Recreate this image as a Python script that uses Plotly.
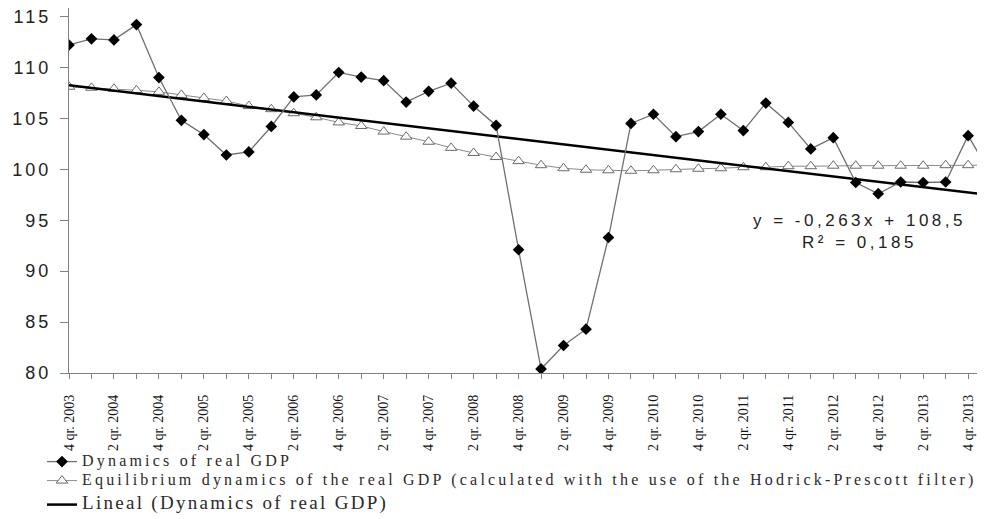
import plotly.graph_objects as go

# ---- data ----
quarters = [
    "4 qr. 2003", "1 qr. 2004", "2 qr. 2004", "3 qr. 2004", "4 qr. 2004",
    "1 qr. 2005", "2 qr. 2005", "3 qr. 2005", "4 qr. 2005",
    "1 qr. 2006", "2 qr. 2006", "3 qr. 2006", "4 qr. 2006",
    "1 qr. 2007", "2 qr. 2007", "3 qr. 2007", "4 qr. 2007",
    "1 qr. 2008", "2 qr. 2008", "3 qr. 2008", "4 qr. 2008",
    "1 qr. 2009", "2 qr. 2009", "3 qr. 2009", "4 qr. 2009",
    "1 qr. 2010", "2 qr. 2010", "3 qr. 2010", "4 qr. 2010",
    "1 qr. 2011", "2 qr. 2011", "3 qr. 2011", "4 qr. 2011",
    "1 qr. 2012", "2 qr. 2012", "3 qr. 2012", "4 qr. 2012",
    "1 qr. 2013", "2 qr. 2013", "3 qr. 2013", "4 qr. 2013",
    "1 qr. 2014",
]
real_gdp = [
    112.2, 112.8, 112.7, 114.2, 109.0,
    104.8, 103.4, 101.4, 101.7,
    104.2, 107.1, 107.3, 109.5,
    109.05, 108.7, 106.6, 107.65,
    108.45, 106.2, 104.3, 92.1,
    80.4, 82.7, 84.3, 93.3,
    104.5, 105.4, 103.2, 103.7,
    105.4, 103.8, 106.5, 104.6,
    102.0, 103.1, 98.7, 97.6,
    98.75, 98.7, 98.75, 103.3,
    99.5,
]
hp_gdp = [
    108.1, 108.0, 107.9, 107.75, 107.6,
    107.3, 107.0, 106.7, 106.2,
    105.9, 105.5, 105.1, 104.6,
    104.25, 103.7, 103.2, 102.7,
    102.1, 101.6, 101.2, 100.8,
    100.4, 100.1, 99.95, 99.9,
    99.85, 99.9, 100.0, 100.05,
    100.1, 100.2, 100.2, 100.3,
    100.3, 100.35, 100.35, 100.35,
    100.35, 100.35, 100.4, 100.4,
    100.4,
]
trend_slope = -0.263
trend_intercept = 108.5
trend_r2 = 0.185

y_ticks = [80, 85, 90, 95, 100, 105, 110, 115]

# ---- derived ----
x_idx = list(range(len(quarters)))
trend = [trend_intercept + trend_slope * (i + 1) for i in x_idx]
shown_idx = x_idx[0:41:2]
shown_text = [quarters[i] for i in shown_idx]

GREY = "#808080"
SERIF = "Liberation Serif, Times New Roman, serif"
SANS = "Liberation Sans, Arial, sans-serif"


def spaced(txt, ls, size=None):
    st = f"letter-spacing:{ls}px"
    if size:
        st += f";font-size:{size}px"
    return f"<span style='{st}'>{txt}</span>"


fig = go.Figure()

fig.add_trace(go.Scatter(
    x=x_idx, y=hp_gdp, mode="lines+markers",
    name=spaced("Equilibrium dynamics of the real GDP (calculated with the use of the Hodrick-Prescott filter)", 3.2, 16),
    line=dict(color="#8a8a8a", width=1),
    marker=dict(symbol="triangle-up", size=10, color="white",
                line=dict(color="#6a6a6a", width=1)),
    legendrank=2, legendgroup="a",
))
fig.add_trace(go.Scatter(
    x=x_idx, y=trend, mode="lines",
    name=spaced("Lineal (Dynamics of real GDP)", 2.3, 19),
    line=dict(color="black", width=2.5),
    legendrank=3, legendgroup="b",
))
fig.add_trace(go.Scatter(
    x=x_idx, y=real_gdp, mode="lines+markers",
    name=spaced("Dynamics of real GDP", 3.2, 16),
    line=dict(color="#707070", width=1.3),
    marker=dict(symbol="diamond", size=9, color="black"),
    legendrank=1, legendgroup="a",
))

eq_text = f"y = {trend_slope}x + {trend_intercept}".replace(".", ",")
r2_text = f"R² = {trend_r2}".replace(".", ",")
fig.add_annotation(
    x=35.15, y=93.9, xref="x", yref="y",
    text=spaced(eq_text, 3.5) + "<br>" + spaced(r2_text, 3.5),
    showarrow=False, align="center",
    font=dict(family=SANS, size=17, color="#222222"),
)

# page body has an 8px margin, so the figure is sized to fit the window from (8, 8)
fig.update_layout(
    width=977, height=511,
    margin=dict(l=61, r=0, t=0, b=146, autoexpand=False),
    paper_bgcolor="white", plot_bgcolor="white",
    showlegend=True,
    legend=dict(
        x=-0.0295, y=-0.203, xanchor="left", yanchor="top",
        font=dict(family=SERIF, size=12, color="#2a2a2a"),
        bgcolor="rgba(0,0,0,0)", tracegroupgap=5,
        traceorder="grouped",
        itemwidth=30,
    ),
    xaxis=dict(
        range=[0, 40.75], automargin=False,
        tickmode="array", tickvals=shown_idx, ticktext=shown_text,
        tickangle=-90,
        tickfont=dict(family=SERIF, size=14, color="#111111"),
        ticks="outside", ticklen=5, tickcolor=GREY, tickwidth=1,
        minor=dict(tickmode="linear", tick0=0, dtick=1, ticks="outside",
                   ticklen=5, tickcolor=GREY, tickwidth=1),
        ticklabelstandoff=10, ticklabeloverflow="allow",
        showline=True, linecolor=GREY, linewidth=1.2,
        showgrid=False, zeroline=False,
    ),
    yaxis=dict(
        range=[80, 115.83], automargin=False,
        tickmode="array", tickvals=y_ticks,
        ticktext=[spaced(str(v), 3) for v in y_ticks],
        tickfont=dict(family=SANS, size=18, color="#222222"),
        ticks="outside", ticklen=8, tickcolor=GREY, tickwidth=1,
        ticklabelstandoff=5, ticklabeloverflow="allow",
        showline=True, linecolor=GREY, linewidth=1.2,
        showgrid=False, zeroline=False,
    ),
)

fig.write_html("out.html")
